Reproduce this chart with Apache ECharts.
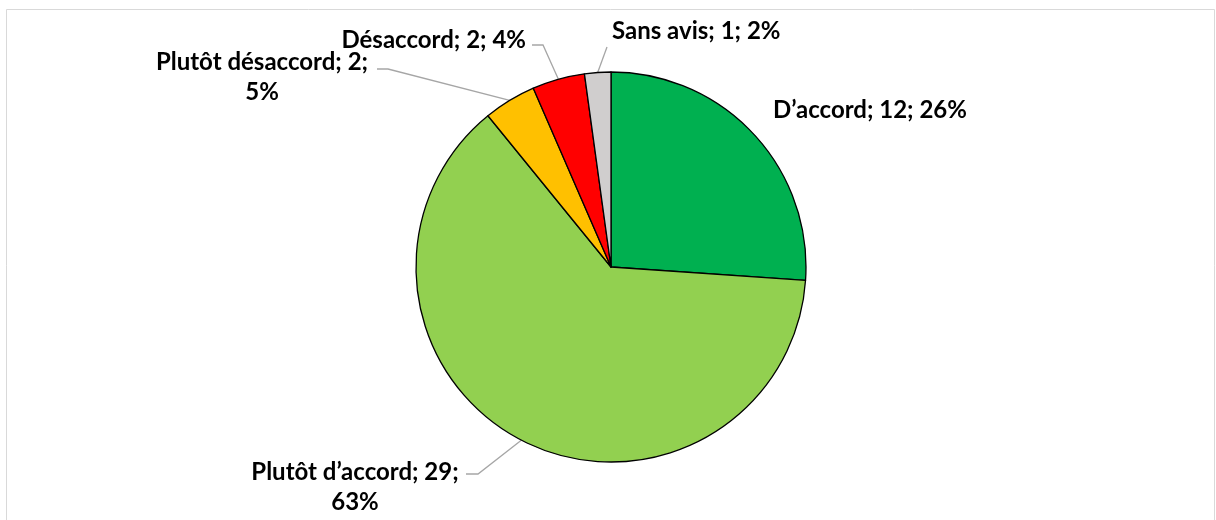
<!DOCTYPE html>
<html>
<head>
<meta charset="utf-8">
<script src="https://cdn.jsdelivr.net/npm/echarts@6/dist/echarts.min.js"></script>
<style>
  html, body { margin: 0; padding: 0; background: #ffffff; }
  #chart { width: 1216px; height: 520px; }
</style>
</head>
<body>
<div id="chart"></div>
<script>
// Survey answers, counts and the rounded shares shown in the labels
const categories = ['D’accord', 'Plutôt d’accord', 'Plutôt désaccord', 'Désaccord', 'Sans avis'];
const counts = [12, 29, 2, 2, 1];
const percentLabels = ['26%', '63%', '5%', '4%', '2%'];
const sliceColors = ['#00B050', '#92D050', '#FFC000', '#FF0000', '#D0CECE'];

// Where each label sits, how it is broken over lines, and where its leader bends
const labelSeparators = [' ', '\n', '\n', ' ', ' '];
const labelSpots = [
  { x: 870, y: 110, align: 'center', bend: null },
  { x: 355, y: 487, align: 'center', bend: [[478, 474], [466, 474]] },
  { x: 262, y: 77, align: 'center', bend: [[388, 69], [377, 69]] },
  { x: 526, y: 40, align: 'right', bend: [[543, 45], [532, 45]] },
  { x: 612, y: 31, align: 'left', bend: [[607, 47]] }
];

const chart = echarts.init(document.getElementById('chart'), null, { renderer: 'canvas' });

const seriesData = categories.map((name, i) => ({
  name: name,
  value: counts[i],
  itemStyle: { color: sliceColors[i] },
  labelLine: { show: labelSpots[i].bend !== null }
}));

chart.setOption({
  animation: false,
  backgroundColor: '#ffffff',
  graphic: [{
    type: 'rect',
    shape: { x: 6.5, y: 9.5, width: 1208, height: 520 },
    style: { fill: 'none', stroke: '#D9D9D9', lineWidth: 1 },
    silent: true,
    z: -1
  }],
  series: [{
    type: 'pie',
    center: [611, 267],
    radius: [0, 195],
    startAngle: 90,
    clockwise: true,
    data: seriesData,
    itemStyle: { borderColor: '#000000', borderWidth: 1.3 },
    emphasis: { disabled: true },
    label: {
      show: true,
      position: 'outside',
      color: '#000000',
      fontFamily: 'Lato',
      fontWeight: 'bold',
      fontSize: 24,
      lineHeight: 30,
      formatter: p => p.name + '; ' + p.value + ';' + labelSeparators[p.dataIndex] + percentLabels[p.dataIndex]
    },
    labelLine: {
      show: true,
      length: 20,
      length2: 10,
      lineStyle: { color: '#A6A6A6', width: 1.3 }
    },
    labelLayout: params => {
      const s = labelSpots[params.dataIndex];
      const out = { x: s.x, y: s.y, align: s.align, verticalAlign: 'middle', moveOverlap: false };
      // leader starts where the library puts it on the slice edge, then bends toward the text
      if (s.bend && params.labelLinePoints) {
        out.labelLinePoints = [params.labelLinePoints[0]].concat(s.bend);
      }
      return out;
    }
  }]
});
</script>
</body>
</html>
